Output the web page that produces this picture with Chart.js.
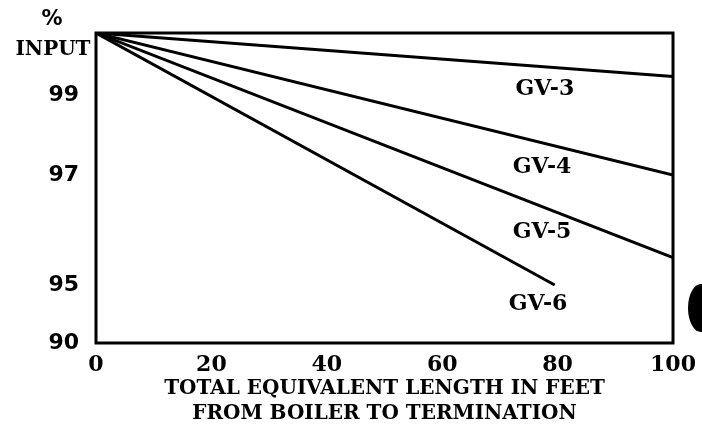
<!DOCTYPE html>
<html>
<head>
<meta charset="utf-8">
<script src="https://cdn.jsdelivr.net/npm/chart.js@4/dist/chart.umd.min.js"></script>
<style>
  body { margin: 0; background: #fff; }
  #wrap { position: relative; width: 702px; height: 437px; }
</style>
</head>
<body>
<div id="wrap"><canvas id="ventChart"></canvas></div>
<script>
// x: total equivalent length (ft), y: % input
const lengthFt = [0, 100];
const gv3 = [100, 99.3];
const gv4 = [100, 97.0];
const gv5 = [100, 95.5];
const gv6Length = [0, 79.5];
const gv6 = [100, 95.0];

const seriesNames = ['GV-3', 'GV-4', 'GV-5', 'GV-6'];
const labelAtX = [77.8, 77.3, 77.3, 76.6];
const labelAtY = [99.1, 97.2, 95.96, 93.3];

const xTicks = [0, 20, 40, 60, 80, 100];
const yTicks = [90, 95, 97, 99];
const xTitle = ['TOTAL EQUIVALENT LENGTH IN FEET', 'FROM BOILER TO TERMINATION'];

// the printed y axis is not evenly spaced: value -> fraction of axis height
const yBreaks = [90, 95, 97, 99, 100];
const yFracs = [0, 0.187, 0.542, 0.80, 1];

class PiecewiseScale extends Chart.LinearScale {
    static id = 'piecewise';
    static defaults = Chart.LinearScale.defaults;
    getPixelForValue(value) {
        if (value === null || value === undefined) return NaN;
        let i = 0;
        while (i < yBreaks.length - 2 && value > yBreaks[i + 1]) i++;
        const t = (value - yBreaks[i]) / (yBreaks[i + 1] - yBreaks[i]);
        const f = yFracs[i] + t * (yFracs[i + 1] - yFracs[i]);
        return this.getPixelForDecimal(f);
    }
    getValueForPixel(pixel) {
        const f = this.getDecimalForPixel(pixel);
        let i = 0;
        while (i < yFracs.length - 2 && f > yFracs[i + 1]) i++;
        const t = (f - yFracs[i]) / (yFracs[i + 1] - yFracs[i]);
        return yBreaks[i] + t * (yBreaks[i + 1] - yBreaks[i]);
    }
}
Chart.register(PiecewiseScale);

const toPoints = (xs, ys) => xs.map((x, i) => ({ x: x, y: ys[i] }));

const frameAndText = {
    id: 'frameAndText',
    afterDatasetsDraw(chart) {
        const { ctx, chartArea: a, scales } = chart;
        ctx.save();
        ctx.strokeStyle = '#000';
        ctx.lineWidth = 3;
        ctx.strokeRect(a.left, a.top, a.right - a.left, a.bottom - a.top);

        ctx.fillStyle = '#000';
        ctx.textAlign = 'center';
        ctx.textBaseline = 'middle';
        ctx.font = 'bold 22px "DejaVu Serif"';
        seriesNames.forEach((name, i) => {
            ctx.fillText(name, scales.x.getPixelForValue(labelAtX[i]), scales.y.getPixelForValue(labelAtY[i]));
        });

        // axis heading
        ctx.font = 'bold 21px "DejaVu Sans"';
        ctx.fillText('%', 52, 20);
        ctx.font = 'bold 20px "DejaVu Serif"';
        ctx.fillText('INPUT', 53, 50);

        // scan mark at the right edge
        ctx.beginPath();
        ctx.ellipse(701, 308, 13, 24, 0, 0, Math.PI * 2);
        ctx.fill();
        ctx.restore();
    }
};

new Chart(document.getElementById('ventChart'), {
    type: 'line',
    data: {
        datasets: [
            { label: 'GV-3', data: toPoints(lengthFt, gv3) },
            { label: 'GV-4', data: toPoints(lengthFt, gv4) },
            { label: 'GV-5', data: toPoints(lengthFt, gv5) },
            { label: 'GV-6', data: toPoints(gv6Length, gv6) }
        ].map(d => Object.assign(d, {
            borderColor: '#000',
            borderWidth: 3,
            pointRadius: 0,
            tension: 0,
            fill: false
        }))
    },
    options: {
        responsive: true,
        maintainAspectRatio: false,
        animation: false,
        layout: { padding: { top: 33, right: 29, left: 0, bottom: 0 } },
        plugins: {
            legend: { display: false },
            tooltip: { enabled: false }
        },
        scales: {
            x: {
                type: 'linear',
                min: 0,
                max: 100,
                afterBuildTicks: s => { s.ticks = xTicks.map(v => ({ value: v })); },
                afterFit: s => { s.height = 94; s.paddingLeft = 0; s.paddingRight = 0; },
                grid: { display: false, drawTicks: false },
                border: { display: false },
                ticks: {
                    padding: 9,
                    color: '#000',
                    maxRotation: 0,
                    font: { family: 'DejaVu Serif', size: 22, weight: 'bold' }
                },
                title: {
                    display: true,
                    text: xTitle,
                    color: '#000',
                    padding: { top: 0, bottom: 11 },
                    font: { family: 'DejaVu Serif', size: 20, weight: 'bold', lineHeight: 1.25 }
                }
            },
            y: {
                type: 'piecewise',
                min: 90,
                max: 100,
                afterBuildTicks: s => { s.ticks = yTicks.map(v => ({ value: v })); },
                afterFit: s => { s.width = 96; s.paddingTop = 0; s.paddingBottom = 0; },
                grid: { display: false, drawTicks: false },
                border: { display: false },
                ticks: {
                    padding: 17,
                    color: '#000',
                    font: { family: 'DejaVu Sans', size: 22, weight: 'bold' }
                }
            }
        }
    },
    plugins: [frameAndText]
});
</script>
</body>
</html>
